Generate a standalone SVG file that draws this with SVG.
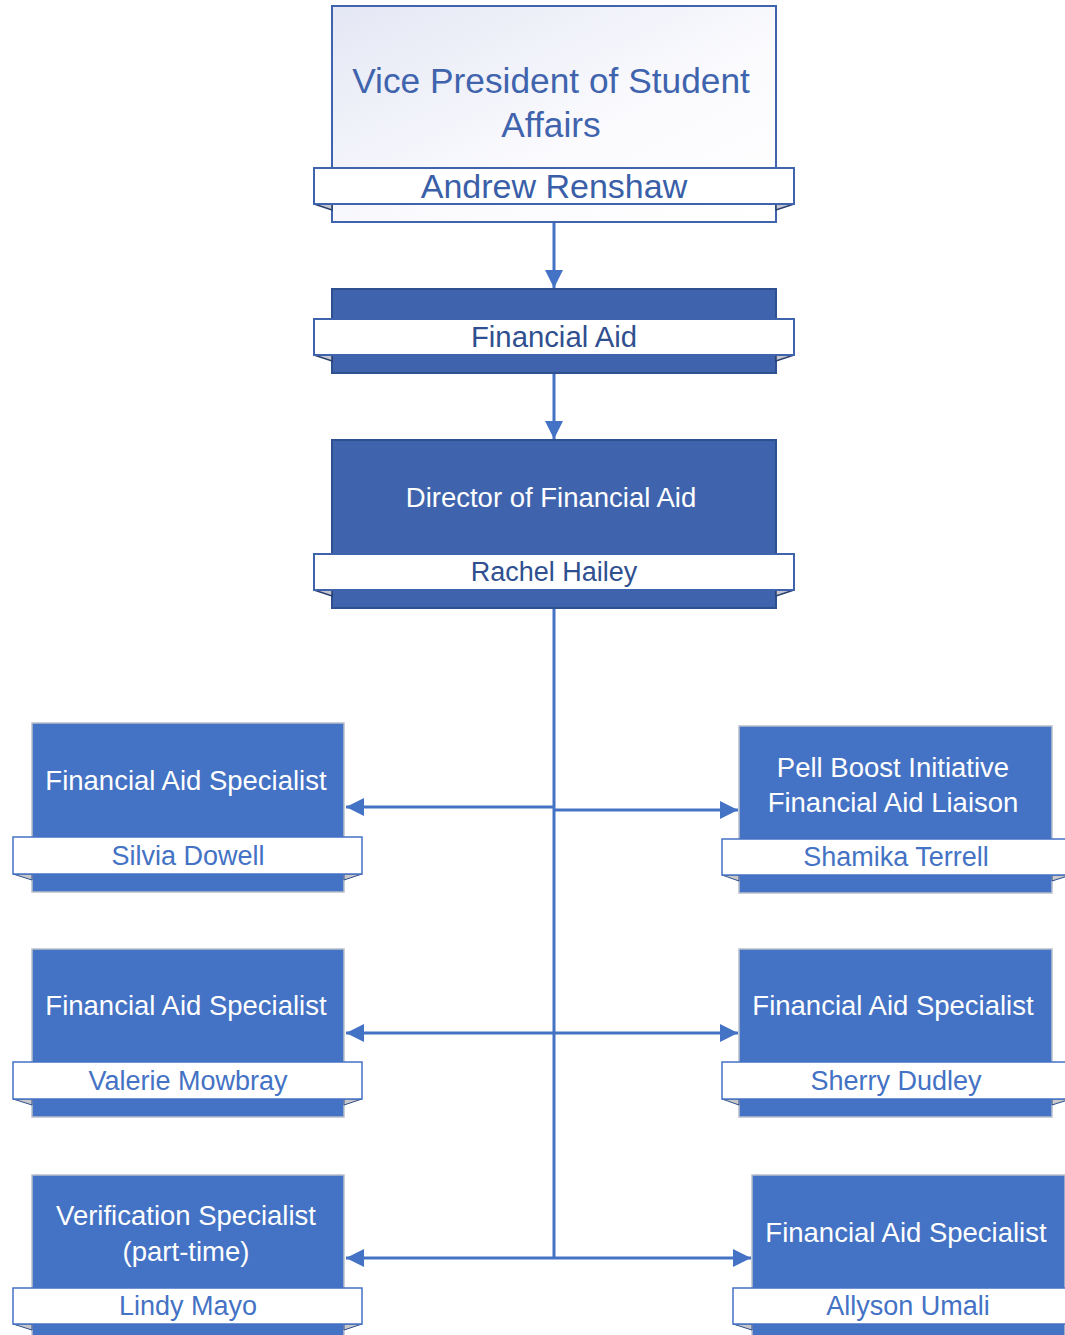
<svg xmlns="http://www.w3.org/2000/svg" width="1065" height="1335" viewBox="0 0 1065 1335">
<style>
text{font-family:"Liberation Sans",Arial,sans-serif;text-anchor:middle}
.dark{fill:#3f64ad;stroke:#2f5090;stroke-width:2}
.light{fill:#4472c4;stroke:#b8bfcc;stroke-width:1.5}
.banner{fill:#fff;stroke:#3f64ad;stroke-width:2}
.banner2{fill:#fff;stroke:#4472c4;stroke-width:1.5}
.fold{fill:#c4c6cf;stroke:#2a3f6e;stroke-width:1.5}
.fold2{fill:#c8c8c8;stroke:#2f4f8f;stroke-width:1}
.title{fill:#fff;font-size:27.5px}
.name{fill:#4472c4;font-size:27px}
.conn{stroke:#4472c4;stroke-width:3;fill:none}
</style>
<defs>
<linearGradient id="g" x1="0" y1="0" x2="1" y2="1">
<stop offset="0" stop-color="#e4e7f4"/>
<stop offset="0.6" stop-color="#fbfbfe"/>
<stop offset="1" stop-color="#ffffff"/>
</linearGradient>
<marker id="ar" viewBox="0 0 10 10" refX="10" refY="5" markerWidth="6" markerHeight="6.3" orient="auto" markerUnits="strokeWidth">
<path d="M0,0 L10,5 L0,10 Z" fill="#4472c4"/>
</marker>
</defs>

<g id="connectors">
<line class="conn" x1="554" y1="222" x2="554" y2="288" marker-end="url(#ar)"/>
<line class="conn" x1="554" y1="373" x2="554" y2="439" marker-end="url(#ar)"/>
<line class="conn" x1="554" y1="608" x2="554" y2="1258"/>
<line class="conn" x1="554" y1="807" x2="346" y2="807" marker-end="url(#ar)"/>
<line class="conn" x1="554" y1="810" x2="738" y2="810" marker-end="url(#ar)"/>
<line class="conn" x1="554" y1="1033" x2="346" y2="1033" marker-end="url(#ar)"/>
<line class="conn" x1="554" y1="1033" x2="738" y2="1033" marker-end="url(#ar)"/>
<line class="conn" x1="554" y1="1258" x2="346" y2="1258" marker-end="url(#ar)"/>
<line class="conn" x1="554" y1="1258" x2="751" y2="1258" marker-end="url(#ar)"/>
</g>

<g id="vp">
<rect x="332" y="6" width="444" height="216" fill="url(#g)" stroke="#3f64ad" stroke-width="2"/>
<polygon class="fold" points="314,204 332,204 332,210"/>
<polygon class="fold" points="794,204 776,204 776,210"/>
<rect class="banner" x="314" y="168" width="480" height="36"/>
<text x="551" y="93" fill="#3f64ad" font-size="35.3">Vice President of Student</text>
<text x="551" y="137" fill="#3f64ad" font-size="35.3">Affairs</text>
<text x="554" y="198" fill="#3a5fa8" font-size="34">Andrew Renshaw</text>
</g>

<g id="financial-aid">
<rect class="dark" x="332" y="289" width="444" height="84"/>
<polygon class="fold" points="314,355 332,355 332,361"/>
<polygon class="fold" points="794,355 776,355 776,361"/>
<rect class="banner" x="314" y="319" width="480" height="36"/>
<text x="554" y="347" fill="#2f4f8f" font-size="29.3">Financial Aid</text>
</g>

<g id="director">
<rect class="dark" x="332" y="440" width="444" height="168"/>
<polygon class="fold" points="314,590 332,590 332,596"/>
<polygon class="fold" points="794,590 776,590 776,596"/>
<rect class="banner" x="314" y="554" width="480" height="36"/>
<text x="551" y="507" fill="#fff" font-size="27.5">Director of Financial Aid</text>
<text x="554" y="581" fill="#2f4f8f" font-size="27">Rachel Hailey</text>
</g>

<g id="silvia">
<rect class="light" x="32" y="723" width="312" height="169"/>
<polygon class="fold2" points="13,874 32,874 32,880"/>
<polygon class="fold2" points="362,874 344,874 344,880"/>
<rect class="banner2" x="13" y="837" width="349" height="37"/>
<text class="title" x="186" y="790">Financial Aid Specialist</text>
<text class="name" x="188" y="865">Silvia Dowell</text>
</g>

<g id="shamika">
<rect class="light" x="739" y="726" width="313" height="167"/>
<polygon class="fold2" points="722,875 739,875 739,881"/>
<polygon class="fold2" points="1071,875 1052,875 1052,881"/>
<rect class="banner2" x="722" y="839" width="349" height="36"/>
<text class="title" x="893" y="777">Pell Boost Initiative</text>
<text class="title" x="893" y="812">Financial Aid Liaison</text>
<text class="name" x="896" y="866">Shamika Terrell</text>
</g>

<g id="valerie">
<rect class="light" x="32" y="949" width="312" height="168"/>
<polygon class="fold2" points="13,1099 32,1099 32,1105"/>
<polygon class="fold2" points="362,1099 344,1099 344,1105"/>
<rect class="banner2" x="13" y="1062" width="349" height="37"/>
<text class="title" x="186" y="1015">Financial Aid Specialist</text>
<text class="name" x="188" y="1090">Valerie Mowbray</text>
</g>

<g id="sherry">
<rect class="light" x="739" y="949" width="313" height="168"/>
<polygon class="fold2" points="722,1099 739,1099 739,1105"/>
<polygon class="fold2" points="1071,1099 1052,1099 1052,1105"/>
<rect class="banner2" x="722" y="1062" width="349" height="37"/>
<text class="title" x="893" y="1015">Financial Aid Specialist</text>
<text class="name" x="896" y="1090">Sherry Dudley</text>
</g>

<g id="lindy">
<rect class="light" x="32" y="1175" width="312" height="168"/>
<polygon class="fold2" points="13,1324 32,1324 32,1330"/>
<polygon class="fold2" points="362,1324 344,1324 344,1330"/>
<rect class="banner2" x="13" y="1288" width="349" height="36"/>
<text class="title" x="186" y="1225">Verification Specialist</text>
<text class="title" x="186" y="1261">(part-time)</text>
<text class="name" x="188" y="1315">Lindy Mayo</text>
</g>

<g id="allyson">
<rect class="light" x="752" y="1175" width="313" height="168"/>
<polygon class="fold2" points="733,1324 752,1324 752,1330"/>
<rect class="banner2" x="733" y="1288" width="349" height="36"/>
<text class="title" x="906" y="1242">Financial Aid Specialist</text>
<text class="name" x="908" y="1315">Allyson Umali</text>
</g>
</svg>
